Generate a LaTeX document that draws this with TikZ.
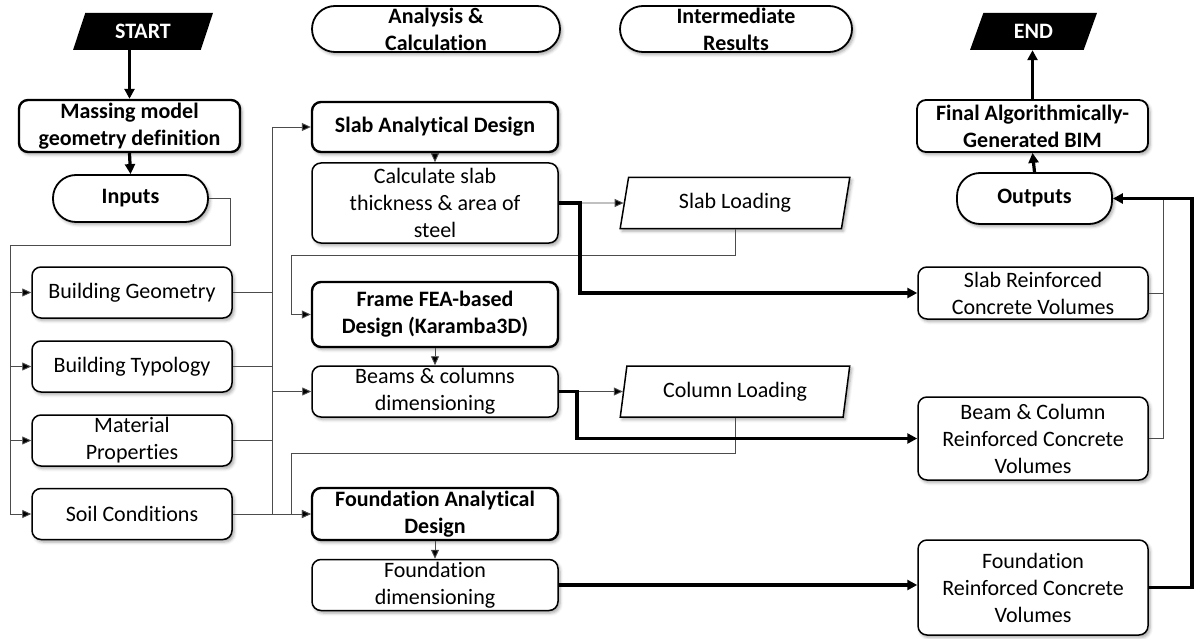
\documentclass[tikz,border=0pt]{standalone}
\usepackage{fontspec}
\setmainfont{Carlito}[Ligatures=NoCommon]
\usetikzlibrary{arrows.meta,shapes.geometric,shadows.blur}
\begin{document}
\begin{tikzpicture}[x=1pt,y=-1pt,
  every node/.style={font=\fontsize{22}{27}\selectfont, align=center, inner sep=0pt},
  shade/.style={blur shadow={shadow xshift=2pt, shadow yshift=-2.5pt, shadow blur radius=3pt, shadow opacity=35}},
  box/.style={draw, rounded corners=9pt, line width=1.5pt, fill=white, shade},
  boldbox/.style={box, line width=2.4pt, font=\fontsize{22}{27}\selectfont\bfseries},
  pill/.style={draw, rounded corners=23pt, line width=1.8pt, fill=white, shade, font=\fontsize{22}{27}\selectfont\bfseries},
  pgram/.style={draw, trapezium, trapezium stretches=true, line width=1.5pt, fill=white, shade},
  term/.style={trapezium, trapezium stretches=true, fill=black, text=white, font=\fontsize{22}{27}\selectfont\bfseries},
  wire/.style={draw=black!70, line width=0.9pt},
  warrow/.style={wire, -{Triangle[length=9pt,width=8pt,fill=black]}},
  fat/.style={draw=black, line width=3.2pt},
  farrow/.style={fat, -{Triangle[length=10pt,width=10pt]}}
]
\useasboundingbox (0,0) rectangle (1198,639);

% column headers
\node[pill, minimum width=248, minimum height=46] (anal) at (436,29) {Analysis \&\\Calculation};
\node[pill, minimum width=232, minimum height=46] (inter) at (736,29) {Intermediate\\Results};

% left column: start and inputs
\node[term, trapezium left angle=68, trapezium right angle=112, minimum width=140, minimum height=37] (start) at (143,31.5) {START};
\node[boldbox, minimum width=221, minimum height=52] (massing) at (129.5,126) {Massing model\\geometry definition};
\node[pill, minimum width=155, minimum height=47] (inputs) at (130.5,198.5) {Inputs};
\node[box, minimum width=200, minimum height=51] (bgeom) at (132,292.5) {Building Geometry};
\node[box, minimum width=200, minimum height=51] (btyp) at (132,366.5) {Building Typology};
\node[box, minimum width=200, minimum height=51] (mat) at (132,440.5) {Material\\Properties};
\node[box, minimum width=200, minimum height=51] (soil) at (132,514) {Soil Conditions};

% analysis column
\node[boldbox, minimum width=246, minimum height=50] (slabAD) at (435,127) {Slab Analytical Design};
\node[box, minimum width=246, minimum height=80] (calc) at (435,203) {Calculate slab\\thickness \& area of\\steel};
\node[boldbox, minimum width=246, minimum height=65] (frame) at (435,314.5) {Frame FEA-based\\Design (Karamba3D)};
\node[box, minimum width=246, minimum height=51] (beams) at (435,391.5) {Beams \& columns\\dimensioning};
\node[boldbox, minimum width=246, minimum height=52] (foundAD) at (435,514) {Foundation Analytical\\Design};
\node[box, minimum width=246, minimum height=51] (fdim) at (435,585) {Foundation\\dimensioning};

% intermediate results
\node[pgram, trapezium left angle=77, trapezium right angle=103, minimum width=230, minimum height=51] (slabload) at (735,203) {Slab Loading};
\node[pgram, trapezium left angle=77, trapezium right angle=103, minimum width=230, minimum height=51] (colload) at (735,391.5) {Column Loading};

% outputs column
\node[term, trapezium left angle=70, trapezium right angle=110, minimum width=127, minimum height=37] (end) at (1033.5,31.5) {END};
\node[boldbox, line width=1.8pt, minimum width=231, minimum height=52] (final) at (1032.5,126) {Final Algorithmically-\\Generated BIM};
\node[pill, minimum width=155, minimum height=51] (outputs) at (1034.5,198.5) {Outputs};
\node[box, minimum width=230, minimum height=52] (slabRC) at (1033,293) {Slab Reinforced\\Concrete Volumes};
\node[box, minimum width=230, minimum height=83] (bcRC) at (1033,438.5) {Beam \& Column\\Reinforced Concrete\\Volumes};
\node[box, minimum width=230, minimum height=95] (fRC) at (1033,587.5) {Foundation\\Reinforced Concrete\\Volumes};

% routing points
\coordinate (inR) at (230,245);
\coordinate (inL) at (10,245);
\coordinate (busR) at (272,0);
\coordinate (fb1) at (291,255);
\coordinate (fb2) at (291,453);
\coordinate (jS) at (580,0);
\coordinate (jB) at (577,0);
\coordinate (jT) at (1163,0);
\coordinate (jR) at (1192,0);

% main spine
\draw[farrow] (massing.north |- start.south) -- (massing.north);
\draw[farrow] (massing.south) -- (inputs.north);

% inputs distribution
\draw[wire] (inputs.east) -| (inR) -- (inL) -- (inL |- soil.west);
\foreach \n in {bgeom,btyp,mat,soil}
  \draw[warrow] (inL |- \n.west) -- (\n.west);
\draw[wire] (busR |- slabAD.west) -- (busR |- soil.east);
\foreach \n in {bgeom,btyp,mat}
  \draw[wire] (\n.east) -- (busR |- \n.east);
\draw[warrow] (busR |- slabAD.west) -- (slabAD.west);
\draw[warrow] (busR |- beams.west) -- (beams.west);
\draw[warrow] (soil.east) -- (foundAD.west);

% analysis chain
\draw[warrow] (slabAD.south) -- (calc.north);
\draw[warrow] (frame.south) -- (beams.north);
\draw[warrow] (foundAD.south) -- (fdim.north);
\draw[warrow] (calc.east) -- (slabload.west);
\draw[warrow] (beams.east) -- (colload.west);

% loading feedback
\draw[warrow] (slabload.south) -- (slabload.south |- fb1) -- (fb1) |- (frame.west);
\draw[warrow] (colload.south) -- (colload.south |- fb2) -- (fb2) -- (fb2 |- foundAD.west) -- (foundAD.west);

% reinforced concrete volumes
\draw[farrow] (calc.east) -- (jS |- calc.east) |- (slabRC.west);
\draw[farrow] (beams.east) -- (jB |- beams.east) |- (bcRC.west);
\draw[farrow] (fdim.east) -- (fRC.west |- fdim.east);

% collecting outputs
\draw[wire] (slabRC.east) -- (jT |- slabRC.east) -- (jT |- outputs.east);
\draw[wire] (bcRC.east) -- (jT |- bcRC.east) -- (jT |- slabRC.east);
\draw[farrow] (fRC.east) -- (jR |- fRC.east) |- (outputs.east);
\draw[farrow] (outputs.north) -- (final.south);
\draw[farrow] (final.north) -- (final.north |- end.south);
\end{tikzpicture}
\end{document}
